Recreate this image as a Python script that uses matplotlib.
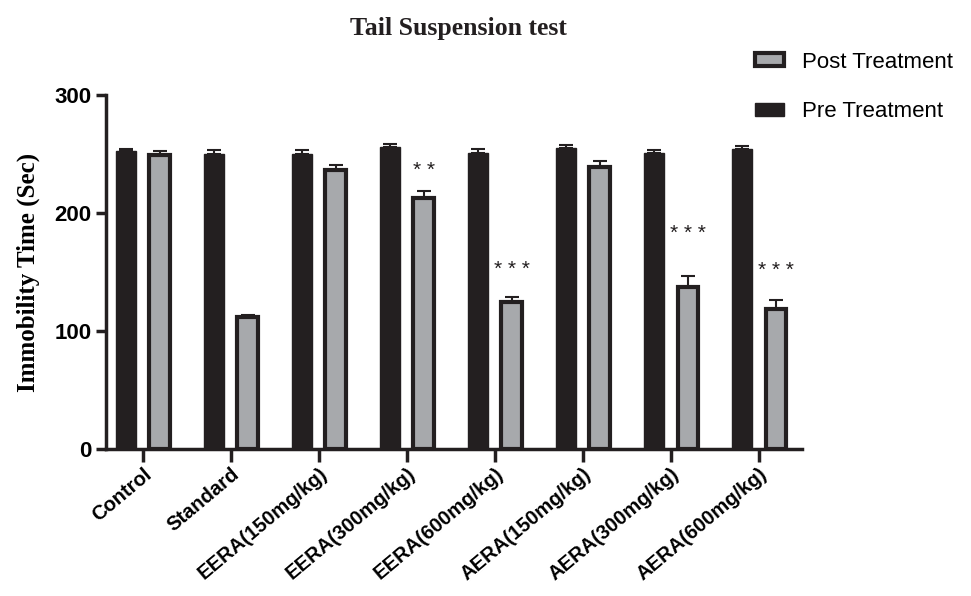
import numpy as np
import matplotlib.pyplot as plt
import matplotlib.patches as patches

groups = ['Control', 'Standard', 'EERA(150mg/kg)', 'EERA(300mg/kg)', 'EERA(600mg/kg)',
          'AERA(150mg/kg)', 'AERA(300mg/kg)', 'AERA(600mg/kg)']
pre = [252.5, 250, 250, 256, 251, 255.5, 250.5, 254.5]
pre_err = [1.5, 3, 3.5, 2.5, 3, 2.5, 3, 2.5]
post = [249.5, 112, 236.5, 213, 125, 239, 137, 119]
post_err = [3, 1.8, 4, 6, 4, 5, 10, 7]
stars = ['', '', '', '* *', '* * *', '', '* * *', '* * *']
star_y = [0, 0, 0, 236, 152, 0, 183, 151]

dark = '#231f20'
grey = '#a7a9ac'

fig = plt.figure(figsize=(9.71, 5.96), dpi=100)
ax = fig.add_axes([0.109, 0.2466, 0.717, 0.594])

x = np.arange(len(groups))
w = 0.23
off = 0.19
ax.bar(x - off, pre, w, color=dark, edgecolor=dark, linewidth=1, zorder=2)
ax.errorbar(x - off, pre, yerr=[np.zeros(len(pre)), pre_err], fmt='none',
            ecolor=dark, elinewidth=1.5, capsize=5, capthick=1.5, zorder=1)
ax.bar(x + off, post, w, color=grey, edgecolor=dark, linewidth=3, zorder=2)
ax.errorbar(x + off, post, yerr=[np.zeros(len(post)), post_err], fmt='none',
            ecolor=dark, elinewidth=1.5, capsize=5, capthick=1.5, zorder=1)

for xi, s, sy in zip(x, stars, star_y):
    if s:
        ax.text(xi + off, sy, s, ha='center', va='center', fontsize=15,
                family='Liberation Sans', color=dark)

ax.set_xlim(-0.42, 7.49)
ax.set_ylim(0, 300)
ax.set_yticks([0, 100, 200, 300])
ax.set_xticks(x)
ax.set_xticklabels(groups, rotation=40, ha='right', rotation_mode='anchor',
                   fontsize=14.5, fontweight='bold', family='Liberation Sans')
for lab in ax.get_yticklabels():
    lab.set_fontsize(16)
    lab.set_fontweight('bold')
    lab.set_family('Liberation Sans')
ax.tick_params(axis='both', width=2.5, length=7, color=dark, direction='out')
ax.tick_params(axis='x', length=9, pad=2)
for sp in ['top', 'right']:
    ax.spines[sp].set_visible(False)
for sp in ['left', 'bottom']:
    ax.spines[sp].set_linewidth(2.5)
    ax.spines[sp].set_color(dark)

ax.set_ylabel('Immobility Time (Sec)', fontsize=18, fontweight='bold',
              family='Liberation Serif', labelpad=10)
fig.text(0.472, 0.952, 'Tail Suspension test', ha='center', va='center',
         fontsize=18.5, fontweight='bold', family='Liberation Serif', color=dark)

h_post = patches.Patch(facecolor=grey, edgecolor=dark, linewidth=3)
h_pre = patches.Patch(facecolor=dark, edgecolor=dark)
fig.legend([h_post, h_pre], ['Post Treatment', 'Pre Treatment'],
           loc='upper left', bbox_to_anchor=(0.757, 0.947), frameon=False,
           prop={'family': 'Liberation Sans', 'size': 16},
           labelspacing=1.3, handlelength=1.3, handleheight=0.55, handletextpad=0.8)

fig.savefig('out.png', dpi=100)
